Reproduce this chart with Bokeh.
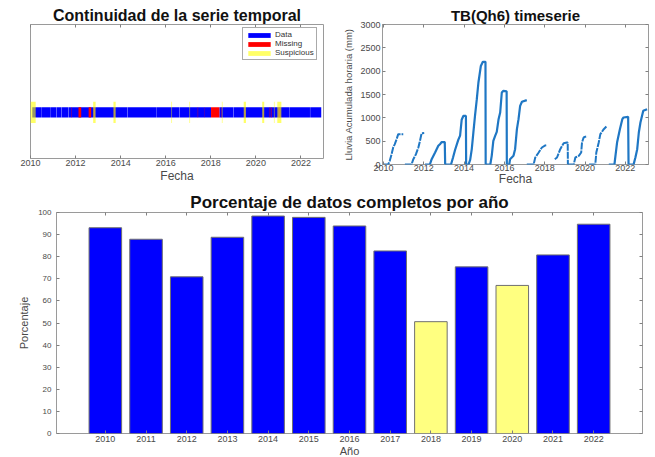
from bokeh.plotting import figure
from bokeh.models import (ColumnDataSource, FixedTicker, LinearAxis, Range1d,
                          Legend, LegendItem)
from bokeh.layouts import column, row
from bokeh.embed import file_html
from bokeh.resources import INLINE

# ---------------- data: continuity of the series ----------------
data_start = [2010.08, 2010.51, 2010.91, 2011.16, 2011.38, 2011.69, 2014.31, 2015.61,
              2016.61, 2018.38, 2019.01, 2021.51, 2022.41]
data_end = [2010.50, 2010.90, 2011.15, 2011.37, 2011.68, 2014.30, 2015.60, 2016.60,
            2018.01, 2019.00, 2021.50, 2022.40, 2022.90]
missing_start = [2011.81, 2012.13, 2012.58, 2012.81, 2013.70, 2017.41, 2017.71,
                 2018.01, 2018.45, 2019.49, 2020.33, 2020.60, 2020.66, 2021.00]
missing_end = [2011.84, 2012.25, 2012.69, 2012.86, 2013.73, 2017.44, 2017.73,
               2018.38, 2018.48, 2019.53, 2020.36, 2020.63, 2020.71, 2021.09]
susp_start = [2010.00, 2012.78, 2013.68, 2016.25, 2017.05, 2018.49, 2019.46,
              2020.28, 2020.80, 2020.95]
susp_end = [2010.23, 2012.89, 2013.78, 2016.28, 2017.08, 2018.52, 2019.56,
            2020.37, 2020.83, 2021.13]

# ---------------- data: cumulative rainfall per cycle ----------------
cycle_x = {
    2010: [2010.00, 2010.23, 2010.31, 2010.40, 2010.48, 2010.56, 2010.65, 2010.73, 2010.98],
    2011: [2011.06, 2011.39, 2011.48, 2011.61, 2011.73, 2011.81, 2011.89, 2012.02],
    2012: [2012.06, 2012.30, 2012.39, 2012.56, 2012.72, 2012.80, 2012.89, 2013.04, 2013.06],
    2013: [2013.06, 2013.35, 2013.45, 2013.55, 2013.71, 2013.80, 2013.88, 2013.96, 2014.09, 2014.10],
    2014: [2014.10, 2014.22, 2014.30, 2014.38, 2014.46, 2014.54, 2014.63, 2014.71, 2014.83, 2014.93, 2015.06, 2015.07],
    2015: [2015.07, 2015.30, 2015.37, 2015.45, 2015.54, 2015.62, 2015.71, 2015.79, 2015.87, 2015.95, 2016.11, 2016.12],
    2016: [2016.12, 2016.24, 2016.28, 2016.45, 2016.53, 2016.62, 2016.70, 2016.78, 2016.87, 2017.11],
    2017: [2017.11, 2017.45, 2017.53, 2017.70, 2017.86, 2018.03, 2018.11],
    2018: [2018.50, 2018.61, 2018.77, 2018.94, 2019.10, 2019.14, 2019.15],
    2019: [2019.15, 2019.44, 2019.52, 2019.69, 2019.81, 2019.85, 2019.93, 2020.10],
    2020: [2020.20, 2020.51, 2020.56, 2020.68, 2020.76, 2020.93, 2021.06],
    2021: [2021.18, 2021.46, 2021.51, 2021.59, 2021.73, 2021.85, 2021.91, 2022.14, 2022.16],
    2022: [2022.16, 2022.41, 2022.50, 2022.59, 2022.67, 2022.75, 2022.89, 2023.08],
}
cycle_y = {
    2010: [0, 0, 79, 221, 364, 436, 543, 650, 650],
    2011: [0, 0, 114, 221, 364, 507, 670, 675],
    2012: [0, 0, 114, 257, 400, 436, 480, 480, 0],
    2013: [0, 0, 150, 310, 526, 620, 960, 1040, 1040, 0],
    2014: [0, 0, 100, 330, 690, 1040, 1400, 1757, 2110, 2200, 2200, 0],
    2015: [0, 0, 186, 507, 614, 700, 971, 1114, 1543, 1579, 1570, 0],
    2016: [0, 0, 114, 186, 329, 757, 971, 1257, 1343, 1379],
    2017: [0, 0, 150, 257, 364, 410, 415],
    2018: [114, 150, 329, 457, 471, 471, 0],
    2019: [0, 0, 150, 186, 257, 471, 579, 614],
    2020: [0, 0, 257, 471, 650, 757, 814],
    2021: [0, 0, 186, 471, 757, 971, 1007, 1021, 0],
    2022: [0, 0, 150, 329, 686, 900, 1150, 1186],
}
gappy_cycles = [2010, 2011, 2017, 2018, 2019, 2020]

# ---------------- data: percentage per year ----------------
years = [2010, 2011, 2012, 2013, 2014, 2015, 2016, 2017, 2018, 2019, 2020, 2021, 2022]
pct = [93.1, 87.9, 70.9, 88.8, 98.4, 97.8, 93.9, 82.6, 50.6, 75.4, 67.0, 80.8, 94.7]
threshold = 70

rain_ticks = [0, 500, 1000, 1500, 2000, 2500, 3000]
pct_ticks = [0, 10, 20, 30, 40, 50, 60, 70, 80, 90, 100]
date_ticks = [2010, 2012, 2014, 2016, 2018, 2020, 2022]

FONT = "Liberation Sans"
TXT = "#4a4a4a"
BOX = "#9a9a9a"
TICK = "#808080"


def style(p, title_size):
    p.title.text_font = FONT
    p.title.text_font_size = title_size
    p.title.text_font_style = "bold"
    p.title.text_color = "#111111"
    p.title.align = "center"
    p.title.standoff = 1
    p.outline_line_color = BOX
    p.outline_line_width = 1
    p.xgrid.visible = False
    p.ygrid.visible = False
    p.background_fill_color = "white"
    p.border_fill_color = "white"
    for ax in p.axis:
        ax.axis_line_color = None
        ax.major_tick_in = 3
        ax.major_tick_out = 0
        ax.minor_tick_line_color = None
        ax.major_tick_line_color = TICK
        ax.major_label_text_font = FONT
        ax.major_label_text_color = TXT
        ax.axis_label_text_font = FONT
        ax.axis_label_text_color = TXT
        ax.axis_label_text_font_style = "normal"


def mirror(p, side, ticks):
    ax = LinearAxis(ticker=FixedTicker(ticks=ticks))
    ax.axis_line_color = None
    ax.major_tick_in = 3
    ax.major_tick_out = 0
    ax.minor_tick_line_color = None
    ax.major_tick_line_color = TICK
    ax.major_label_text_color = None
    ax.major_label_text_font_size = "1px"
    ax.major_label_standoff = 0
    p.add_layout(ax, side)


# ---------------- panel 1 ----------------
p1 = figure(frame_width=293, frame_height=134, min_border_left=30, min_border_right=17,
            min_border_top=24, min_border_bottom=32,
            x_range=Range1d(2010, 2023), y_range=Range1d(0, 2.9),
            output_backend="svg", toolbar_location=None,
            title="Continuidad de la serie temporal")
style(p1, "16px")
p1.yaxis.visible = False
p1.xaxis.ticker = FixedTicker(ticks=date_ticks)
p1.xaxis.major_label_text_font_size = "9px"
p1.xaxis.major_label_standoff = 1
p1.xaxis.axis_label = "Fecha"
p1.xaxis.axis_label_text_font_size = "12px"
p1.xaxis.axis_label_standoff = 0
mirror(p1, "above", date_ticks)

src_d = ColumnDataSource(dict(l=data_start, r=data_end))
src_m = ColumnDataSource(dict(l=missing_start, r=missing_end,
                              a=[1.0 if (e - s) > 0.1 else 0.5
                                 for s, e in zip(missing_start, missing_end)]))
src_s = ColumnDataSource(dict(l=susp_start, r=susp_end))
r_d = p1.quad(left="l", right="r", bottom=0.89, top=1.11, source=src_d,
              fill_color="#0000ff", line_color=None)
r_m = p1.quad(left="l", right="r", bottom=0.89, top=1.11, source=src_m,
              fill_color="#ff0000", fill_alpha="a", line_color=None)
r_s = p1.quad(left="l", right="r", bottom=0.77, top=1.23, source=src_s,
              fill_color="#ffff00", fill_alpha=0.6, line_color=None)
big = max(range(len(missing_start)), key=lambda i: missing_end[i] - missing_start[i])
leg = Legend(items=[LegendItem(label="Data", renderers=[r_d]),
                    LegendItem(label="Missing", renderers=[r_m], index=big),
                    LegendItem(label="Suspicious", renderers=[r_s])],
             location=(212, 98))
leg.glyph_width = 28
leg.glyph_height = 6
leg.label_height = 9
leg.label_width = 30
leg.spacing = 0
leg.padding = 2
leg.margin = 0
leg.label_standoff = 2
leg.label_text_font = FONT
leg.label_text_font_size = "8px"
leg.label_text_color = "#333333"
leg.border_line_color = "#555555"
leg.border_line_width = 1
leg.background_fill_alpha = 1
p1.add_layout(leg)

# ---------------- panel 2 ----------------
p2 = figure(frame_width=266, frame_height=140, min_border_left=41, min_border_right=8,
            min_border_top=22, min_border_bottom=28,
            x_range=Range1d(2009.95, 2023.15), y_range=Range1d(0, 3000),
            output_backend="svg", toolbar_location=None,
            title="TB(Qh6) timeserie")
style(p2, "15px")
p2.xaxis.ticker = FixedTicker(ticks=date_ticks)
p2.yaxis.ticker = FixedTicker(ticks=rain_ticks)
p2.xaxis.major_label_text_font_size = "9px"
p2.yaxis.major_label_text_font_size = "9px"
p2.xaxis.major_label_standoff = 0
p2.yaxis.major_label_standoff = 2
p2.xaxis.axis_label = "Fecha"
p2.xaxis.axis_label_text_font_size = "12px"
p2.xaxis.axis_label_standoff = -2
p2.yaxis.axis_label = "Lluvia Acumulada horaria (mm)"
p2.yaxis.axis_label_text_font_size = "9.5px"
p2.yaxis.axis_label_standoff = 3
mirror(p2, "above", date_ticks)
mirror(p2, "right", rain_ticks)

solid = [c for c in cycle_x if c not in gappy_cycles]
p2.multi_line(xs=[cycle_x[c] for c in solid], ys=[cycle_y[c] for c in solid],
              line_color="#1f77c4", line_width=2.2)
p2.multi_line(xs=[cycle_x[c] for c in gappy_cycles], ys=[cycle_y[c] for c in gappy_cycles],
              line_color="#1f77c4", line_width=2, line_dash="7 1")

# ---------------- panel 3 ----------------
colors = ["#ffff80" if v < threshold else "#0000ff" for v in pct]
src3 = ColumnDataSource(dict(x=years, top=pct, color=colors))
p3 = figure(frame_width=586, frame_height=221, min_border_left=56, min_border_right=13,
            min_border_top=21, min_border_bottom=25,
            x_range=Range1d(2008.8, 2023.2), y_range=Range1d(0, 100),
            output_backend="svg", toolbar_location=None,
            title="Porcentaje de datos completos por año")
style(p3, "17px")
p3.vbar(x="x", top="top", width=0.8, bottom=0, source=src3,
        fill_color="color", line_color="#707070", line_width=1)
p3.xaxis.ticker = FixedTicker(ticks=years)
p3.yaxis.ticker = FixedTicker(ticks=pct_ticks)
p3.xaxis.major_label_text_font_size = "9px"
p3.yaxis.major_label_text_font_size = "8px"
p3.xaxis.major_label_standoff = 2
p3.yaxis.major_label_standoff = 5
p3.xaxis.axis_label = "Año"
p3.xaxis.axis_label_text_font_size = "11px"
p3.xaxis.axis_label_standoff = 0
p3.yaxis.axis_label = "Porcentaje"
p3.yaxis.axis_label_text_font_size = "11px"
p3.yaxis.axis_label_standoff = 5
mirror(p3, "above", years)
mirror(p3, "right", pct_ticks)

layout = column(row(p1, p2), p3)
open("out.html", "w").write(file_html(layout, INLINE))
